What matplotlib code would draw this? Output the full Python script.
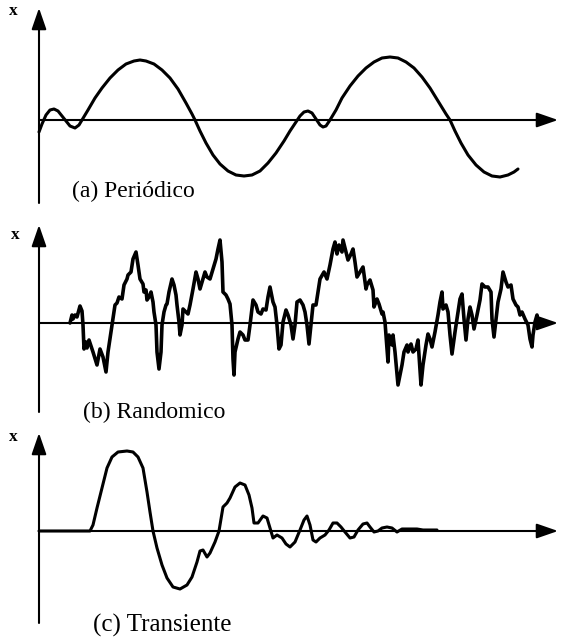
import matplotlib.pyplot as plt

plt.rcParams['font.family'] = ['Liberation Serif', 'DejaVu Serif']

# (a) Periódico
t_a = [0, 3, 7, 11, 15, 19, 23, 27, 31, 36,
       40, 43, 49, 56, 63, 71, 79, 87, 95, 101,
       107, 115, 123, 131, 139, 147, 153, 156, 161, 167,
       174, 181, 189, 197, 205, 213, 221, 229, 237, 245,
       251, 257, 261, 265, 269, 273, 277, 281, 284, 287,
       291, 297, 303, 311, 319, 327, 335, 343, 351, 359,
       367, 375, 383, 391, 399, 407, 411, 416, 422, 429,
       437, 445, 453, 461, 469, 475, 479]
x_a = [-12, -4, 5, 10, 11, 9, 4, -1, -6, -8,
       -5, 0, 10, 22, 32, 42, 50, 56, 59, 60,
       59, 56, 50, 42, 31, 17, 6, 0, -11, -23,
       -35, -44, -51, -55, -56, -55, -51, -43, -33, -21,
       -11, -2, 4, 8, 9, 7, 1, -5, -7, -6,
       0, 10, 22, 34, 44, 52, 58, 62, 63, 62,
       58, 52, 43, 32, 19, 6, 0, -11, -23, -35,
       -45, -52, -56, -57, -55, -52, -49]

# (b) Randomico
t_b = [31, 33, 34, 36, 38, 41, 43, 44, 45, 47,
       48, 50, 53, 54, 58, 61, 64, 67, 69, 73,
       76, 78, 80, 83, 85, 88, 89, 92, 94, 97,
       99, 101, 104, 105, 107, 108, 110, 112, 114, 115,
       117, 118, 120, 122, 123, 125, 127, 128, 130, 133,
       135, 137, 138, 140, 141, 143, 144, 147, 149, 151,
       154, 157, 159, 161, 164, 166, 168, 171, 174, 177,
       179, 181, 183, 184, 187, 189, 191, 193, 194, 195,
       196, 199, 201, 204, 206, 209, 211, 214, 217, 219,
       222, 224, 227, 229, 231, 234, 236, 238, 240, 242,
       244, 247, 249, 252, 254, 256, 258, 261, 264, 266,
       268, 270, 272, 274, 277, 281, 285, 288, 291, 294,
       296, 298, 300, 303, 304, 307, 309, 312, 314, 316,
       318, 321, 324, 327, 328, 331, 334, 335, 338, 340,
       343, 344, 346, 348, 349, 350, 353, 354, 356, 359,
       363, 365, 368, 369, 372, 374, 377, 379, 382, 384,
       387, 389, 391, 393, 396, 399, 401, 403, 404, 407,
       409, 411, 413, 416, 419, 421, 423, 425, 427, 429,
       431, 433, 435, 438, 441, 443, 446, 449, 452, 453,
       455, 457, 459, 462, 464, 467, 469, 472, 474, 477,
       479, 481, 483, 486, 489, 491, 493, 494, 496, 498,
       499, 501]
x_b = [0, 8, 4, 8, 6, 17, 12, -2, -26, -19,
       -25, -17, -26, -29, -42, -26, -34, -49, -29, -2,
       18, 20, 26, 24, 38, 44, 48, 51, 64, 71,
       58, 44, 39, 31, 33, 23, 26, 31, 21, 11,
       -2, -29, -46, -29, -2, 11, 18, 19, 31, 44,
       38, 28, 18, 1, -12, -2, 14, 11, 9, 18,
       34, 51, 44, 34, 44, 51, 46, 44, 54, 64,
       74, 83, 61, 31, 28, 24, 19, -2, -36, -52,
       -29, -16, -9, -12, -17, -17, -2, 23, 18, 11,
       9, 14, 13, 26, 36, 21, 16, -2, -26, -22,
       1, 13, 8, -2, -16, -2, 21, 23, 18, 11,
       -2, -21, -2, 18, 18, 44, 51, 44, 58, 74,
       81, 69, 78, 71, 83, 71, 63, 69, 74, 61,
       46, 51, 56, 34, 38, 43, 33, 16, 24, 19,
       9, 11, 1, -26, -39, -12, -22, -12, -29, -62,
       -42, -29, -22, -29, -21, -29, -26, -17, -62, -42,
       -22, -11, -16, -24, -9, 8, 21, 31, 14, 18,
       11, -12, -31, -9, 11, 24, 29, 4, -17, 4,
       16, 8, -6, 8, 23, 39, 36, 36, 31, 4,
       -14, 4, 21, 34, 51, 41, 36, 38, 24, 18,
       16, 8, 11, 4, -2, -16, -24, -12, 1, 8,
       1, -1]

# (c) Transiente
t_c = [0, 51, 54, 58, 63, 68, 73, 79, 88, 94,
       99, 104, 108, 111, 114, 118, 123, 128, 134, 141,
       148, 153, 158, 161, 164, 168, 171, 176, 180, 184,
       188, 191, 196, 201, 206, 210, 213, 215, 219, 224,
       228, 231, 234, 238, 243, 247, 251, 256, 261, 265,
       268, 271, 274, 277, 281, 286, 290, 294, 298, 302,
       306, 311, 315, 319, 324, 328, 331, 335, 339, 343,
       348, 353, 358, 363, 369, 378, 384, 398]
x_c = [0, 0, 6, 23, 43, 63, 74, 79, 80, 79,
       74, 63, 39, 19, 0, -17, -34, -47, -56, -58,
       -54, -46, -31, -20, -19, -26, -22, -11, 0, 24,
       28, 33, 44, 48, 46, 36, 23, 8, 8, 15,
       13, 3, -7, -4, -7, -13, -16, -11, 1, 11,
       15, 6, -9, -11, -7, -4, 1, 8, 8, 4,
       -1, -7, -6, 1, 7, 8, 4, -1, 0, 3,
       4, 3, -1, 2, 2, 2, 1, 1]

fig = plt.figure(figsize=(5.71, 6.40), dpi=100)

# rect, ylim, y-axis ends, "x" pos, caption pos, caption size, line width
panels = [
    (t_a, x_a, "(a) Periódico", [0, 1 - 212 / 640, 1, 212 / 640], (-92, 120), (-83, 112), (-26, 109), (33, -71), 17, 2.2),
    (t_b, x_b, "(b) Randomico", [0, 1 - 420 / 640, 1, 208 / 640], (-97, 111), (-89, 98), (-24, 88), (44, -89), 17, 2.6),
    (t_c, x_c, "(c) Transiente", [0, 0, 1, 220 / 640], (-109, 111), (-92, 98), (-26, 94), (54, -94), 18, 2.2),
]

for t, x, caption, rect, ylim, yax, xpos, cpos, fs, lw in panels:
    ax = fig.add_axes(rect)
    ax.set_xlim(-39, 532)
    ax.set_ylim(*ylim)
    ax.axis("off")
    arrow = dict(arrowstyle="-|>,head_length=1.3,head_width=0.45", mutation_scale=10,
                 lw=1.5, color="k", shrinkA=0, shrinkB=0)
    ax.annotate("", xy=(0, yax[1]), xytext=(0, yax[0]), arrowprops=arrow)
    ax.annotate("", xy=(519, 0), xytext=(0, 0), arrowprops=arrow)
    ax.plot(t, x, color="k", lw=lw, solid_joinstyle="round", solid_capstyle="round")
    ax.text(xpos[0], xpos[1], "x", fontsize=12.5, fontweight="bold", ha="center", va="center")
    ax.text(cpos[0], cpos[1], caption, fontsize=fs, ha="left", va="center", clip_on=False)

fig.savefig("out.png", dpi=100)
